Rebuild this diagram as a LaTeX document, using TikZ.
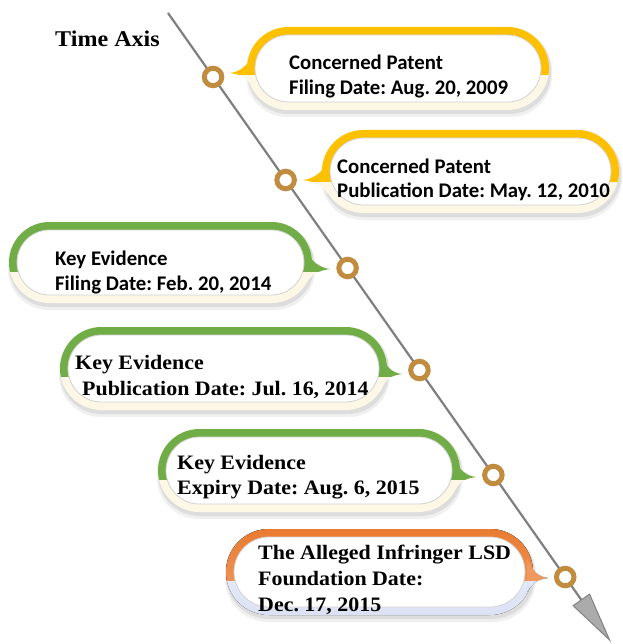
\documentclass[tikz,border=0pt]{standalone}
\usepackage{fontspec}
\setmainfont{Liberation Serif}
\newfontfamily\calib{Carlito}
\newfontfamily\serf{Liberation Serif}[FakeStretch=1.07]
\usetikzlibrary{arrows.meta}
\frenchspacing
\definecolor{gold}{HTML}{FFC000}
\definecolor{leaf}{HTML}{70AD47}
\definecolor{orangeA}{HTML}{E97B30}
\definecolor{orangeB}{HTML}{F0A06A}
\definecolor{cream}{HTML}{FDF7E6}
\definecolor{lav}{HTML}{DCE2F5}
\definecolor{ringc}{HTML}{C18B40}
\definecolor{axisc}{HTML}{7F7F7F}
\tikzset{
  Ytop/.style={fill=gold}, Yptr/.style={fill=gold}, Ybot/.style={fill=cream},
  Gtop/.style={fill=leaf}, Gptr/.style={fill=leaf}, Gbot/.style={fill=cream},
  Otop/.style={top color=orangeA, bottom color=orangeB}, Optr/.style={fill=orangeB!80!orangeA},
  Obot/.style={top color=lav!40, bottom color=lav},
  sanslabel/.style={anchor=base west, inner sep=0pt, font=\calib\bfseries\fontsize{20.8}{25}\selectfont},
  seriflabel/.style={anchor=base west, inner sep=0pt, font=\serf\bfseries\fontsize{20.5}{25}\selectfont},
  dot/.style={circle, draw=ringc, line width=5pt, fill=white, minimum size=17.5pt, inner sep=0pt},
}
% #1 L, #2 T, #3 R, #4 B, #5 tip x, #6 tip y, #7 direction (+1 right / -1 left), #8 colour set
\newcommand\callout[8]{%
  \pgfmathsetmacro\myR{(#4-#2)/2-0.05}%
  \pgfmathsetmacro\myRi{(#4-#2)/2-8.05}%
  \pgfmathsetmacro\myS{#6+2}%
  \pgfmathsetmacro\myB{(#7>0) ? (#3-6) : (#1+6)}%
  \def\pillpath{[rounded corners=\myR pt] (#1,#2) rectangle (#3,#4)}%
  \def\ptrpath{(\myB,#6-20) .. controls (\myB+#7*4,#6-8) and (#5-#7*10,#6-1) .. (#5,#6)
     .. controls (#5-#7*14,#6+2) and (\myB+#7*6,#6+6) .. (\myB,#6+14) -- cycle}%
  \fill[black,opacity=0.06,rounded corners=\myR pt] (#1-1,#2+2) rectangle (#3+3,#4+7);
  \fill[black,opacity=0.08,rounded corners=\myR pt] (#1,#2+2) rectangle (#3+2,#4+4);
  \fill[#8bot] \pillpath;
  \fill[#8bot] \ptrpath;
  \begin{scope}
    \clip (#1-40,#2-10) rectangle (#3+40,\myS);
    \fill[#8top] \pillpath;
    \fill[#8ptr] \ptrpath;
  \end{scope}
  \fill[white, draw=black!18, line width=0.8pt, rounded corners=\myRi pt] (#1+8,#2+8) rectangle (#3-8,#4-8);
}
\begin{document}
\begin{tikzpicture}[x=1pt,y=-1pt]
\useasboundingbox (0,0) rectangle (622,644);
% axis
\coordinate (S) at (168,13);
\coordinate (E) at (611,642);
\draw[axisc, line width=2.2pt, -{Triangle[length=52pt,width=21pt,fill=black!33,color=black!50,line width=1pt]}] (S) -- (E);
\node[anchor=base west, inner sep=0pt, font=\serf\bfseries\fontsize{22.5}{27}\selectfont] (title) at (55,47) {Time Axis};
% callouts
\callout{247}{27}{549}{110}{230}{73}{-1}{Y}
\callout{322}{130}{619}{213}{303}{180}{-1}{Y}
\callout{9}{222}{312}{303}{330}{269}{1}{G}
\callout{60}{327}{387}{410}{402}{374}{1}{G}
\callout{158}{429}{460}{512}{476}{477}{1}{G}
\callout{226}{529}{533}{615}{548}{578}{1}{O}
% texts
\node[sanslabel] (t1a) at (289,70) {Concerned Patent};
\node[sanslabel] (t1b) at (289,95) {Filing Date: Aug. 20, 2009};
\node[sanslabel] (t2a) at (337,174) {Concerned Patent};
\node[sanslabel] (t2b) at (337,198) {Publication Date: May. 12, 2010};
\node[sanslabel] (t3a) at (55,265) {Key Evidence};
\node[sanslabel] (t3b) at (55,290) {Filing Date: Feb. 20, 2014};
\node[seriflabel] (t4a) at (75,369) {Key Evidence};
\node[seriflabel] (t4b) at (82,395) {Publication Date: Jul. 16, 2014};
\node[seriflabel] (t5a) at (177,469) {Key Evidence};
\node[seriflabel] (t5b) at (177,494) {Expiry Date: Aug. 6, 2015};
\node[seriflabel] (t6a) at (258,559) {The Alleged Infringer LSD};
\node[seriflabel] (t6b) at (258,585) {Foundation Date:};
\node[seriflabel] (t6c) at (258,611) {Dec. 17, 2015};
% time points
\path (S) -- (E)
  node[dot, pos=0.1017] (c1) {}
  node[dot, pos=0.2655] (c2) {}
  node[dot, pos=0.4054] (c3) {}
  node[dot, pos=0.5676] (c4) {}
  node[dot, pos=0.7345] (c5) {}
  node[dot, pos=0.8967] (c6) {};
\end{tikzpicture}
\end{document}
